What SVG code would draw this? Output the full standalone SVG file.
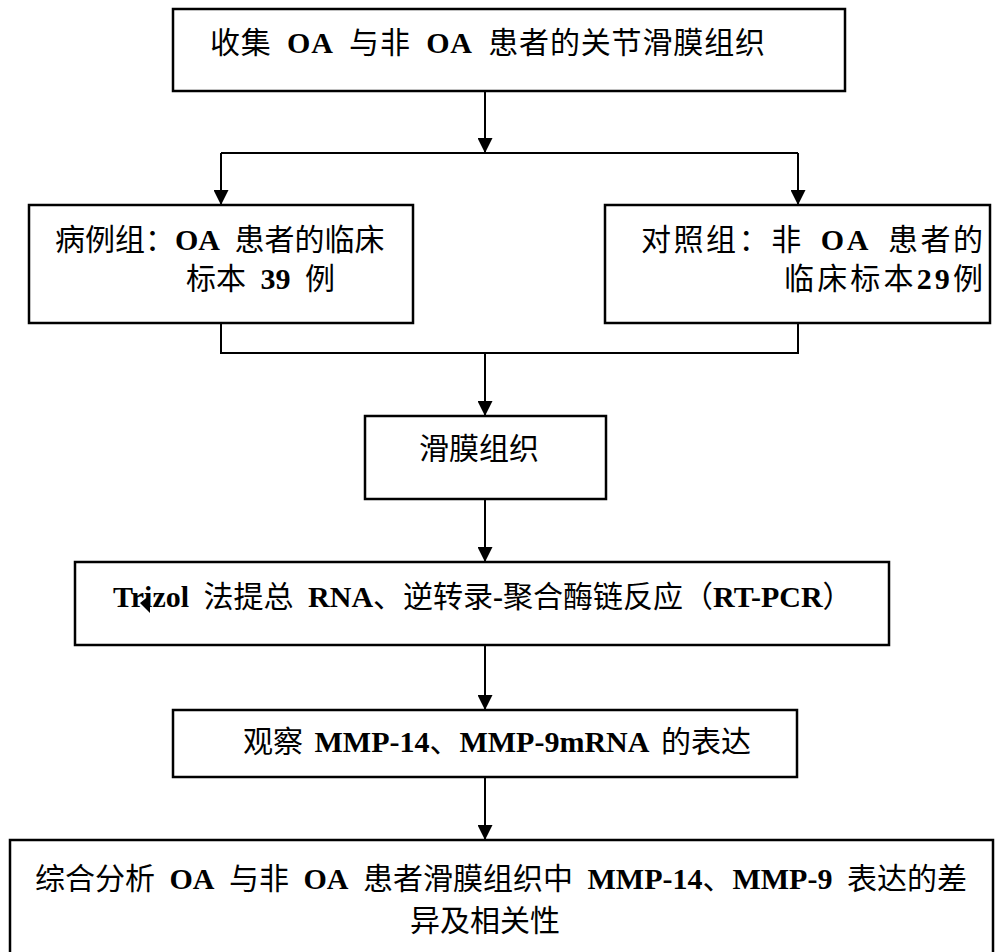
<svg xmlns="http://www.w3.org/2000/svg" width="997" height="952" viewBox="0 0 997 952">
<defs>
<marker id="ah" markerWidth="15" markerHeight="15" refX="15" refY="7.5" orient="auto" markerUnits="userSpaceOnUse">
<path d="M0,0 L15,7.5 L0,15 Z" fill="#000"/>
</marker>
<style>
.box{fill:#fff;stroke:#000;stroke-width:2.5}
.ln{fill:none;stroke:#000;stroke-width:2}
.arr{fill:none;stroke:#000;stroke-width:2;marker-end:url(#ah)}
text{font-family:"Liberation Serif","Noto Sans CJK SC",serif;font-size:30px;fill:#000;word-spacing:7px}
.b{font-weight:bold}
</style>
</defs>
<rect width="997" height="952" fill="#fff"/>
<g id="connectors">
<line class="arr" x1="485" y1="91" x2="485" y2="153"/>
<polyline class="ln" points="221,153 798,153"/>
<line class="arr" x1="221" y1="153" x2="221" y2="205"/>
<line class="arr" x1="798" y1="153" x2="798" y2="205"/>
<polyline class="ln" points="221,323 221,353 798,353 798,323"/>
<line class="arr" x1="485" y1="353" x2="485" y2="416"/>
<line class="arr" x1="485" y1="499" x2="485" y2="562"/>
<line class="arr" x1="485" y1="645" x2="485" y2="710"/>
<line class="arr" x1="485" y1="777" x2="485" y2="840"/>
</g>
<g id="node-collect">
<rect class="box" x="173" y="9" width="672" height="82"/>
<text x="210" y="53" textLength="555" lengthAdjust="spacing">收集 <tspan class="b">OA</tspan> 与非 <tspan class="b">OA</tspan> 患者的关节滑膜组织</text>
</g>
<g id="node-case">
<rect class="box" x="29" y="205" width="384" height="118"/>
<text x="55" y="250">病例组：<tspan class="b">OA</tspan> 患者的临床</text>
<text x="186" y="289">标本 <tspan class="b">39</tspan> 例</text>
</g>
<g id="node-control">
<rect class="box" x="605" y="205" width="385" height="118"/>
<text x="641" y="250" textLength="342" lengthAdjust="spacing">对照组：非 <tspan class="b">OA</tspan> 患者的</text>
<text x="784" y="289" textLength="199" lengthAdjust="spacing">临床标本<tspan class="b">29</tspan>例</text>
</g>
<g id="node-synovium">
<rect class="box" x="365" y="416" width="241" height="83"/>
<text x="419" y="459">滑膜组织</text>
</g>
<g id="node-rtpcr">
<rect class="box" x="75" y="562" width="814" height="83"/>
<text x="113" y="607"><tspan class="b">Trizol</tspan> 法提总 <tspan class="b">RNA</tspan>、逆转录<tspan class="b">-</tspan>聚合酶链反应（<tspan class="b">RT-PCR</tspan>）</text>
<polygon points="140,603 150,595 150,613" fill="#000"/>
</g>
<g id="node-observe">
<rect class="box" x="173" y="710" width="624" height="67"/>
<text x="243" y="752" style="word-spacing:4px">观察 <tspan class="b">MMP-14</tspan>、<tspan class="b">MMP-9mRNA</tspan> 的表达</text>
</g>
<g id="node-analysis">
<rect class="box" x="10" y="840" width="983" height="130"/>
<text x="35" y="889">综合分析 <tspan class="b">OA</tspan> 与非 <tspan class="b">OA</tspan> 患者滑膜组织中 <tspan class="b">MMP-14</tspan>、<tspan class="b">MMP-9</tspan> 表达的差</text>
<text x="485" y="931" text-anchor="middle">异及相关性</text>
</g>
</svg>
